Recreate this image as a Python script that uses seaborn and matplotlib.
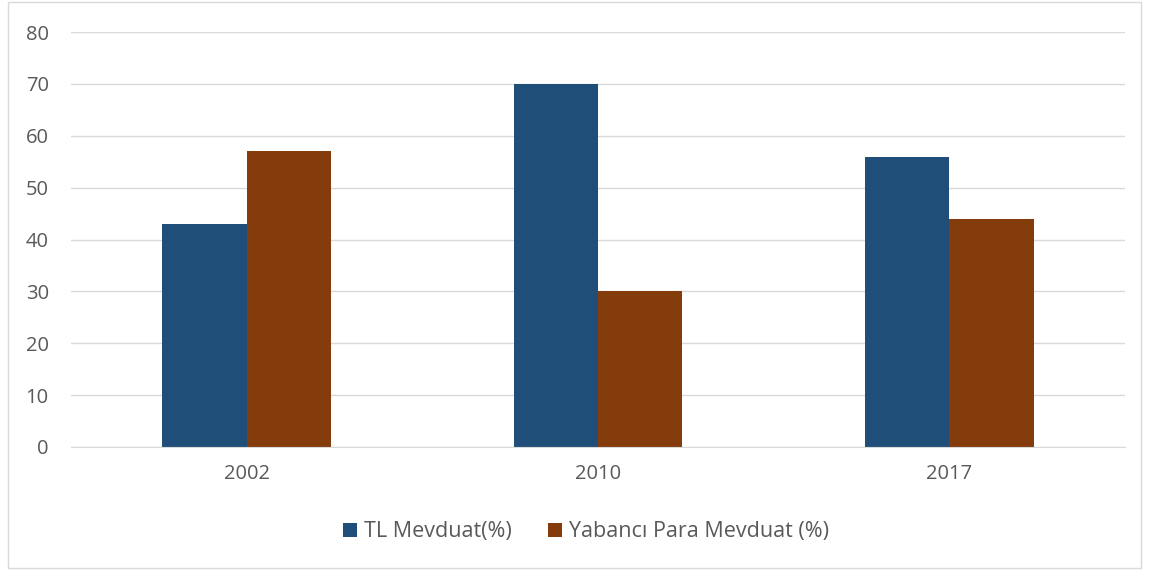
import pandas as pd
import matplotlib.pyplot as plt
import seaborn as sns
from matplotlib.patches import Rectangle

years = ["2002", "2010", "2017"]
tl_mevduat = [43, 70, 56]
yabanci_mevduat = [57, 30, 44]
series_names = ["TL Mevduat(%)", "Yabancı Para Mevduat (%)"]
colors = ["#1F4E79", "#843C0C"]

df = pd.DataFrame({
    "year": years * 2,
    "value": tl_mevduat + yabanci_mevduat,
    "series": [series_names[0]] * 3 + [series_names[1]] * 3,
})

sns.set_style("white")
plt.rcParams["font.family"] = ["Open Sans", "DejaVu Sans"]

fig = plt.figure(figsize=(11.5, 5.72), dpi=100)
ax = fig.add_axes([71 / 1150, 1 - 447 / 572, (1125 - 71) / 1150, (447 - 32) / 572])

sns.barplot(data=df, x="year", y="value", hue="series", palette=colors,
            width=0.48, gap=0, saturation=1, linewidth=0, ax=ax, legend=True)

ax.set_ylim(0, 80)
ax.set_xlim(-0.5, 2.5)
ax.set_yticks(range(0, 81, 10))
ax.yaxis.grid(True, color="#D9D9D9", linewidth=1)
ax.set_axisbelow(True)
for side in ["top", "right", "left"]:
    ax.spines[side].set_visible(False)
ax.spines["bottom"].set_color("#D9D9D9")
ax.tick_params(axis="both", length=0, labelsize=14.5, colors="#595959")
ax.tick_params(axis="y", pad=16)
ax.tick_params(axis="x", pad=12)
ax.set_xlabel("")
ax.set_ylabel("")

handles, labels = ax.get_legend_handles_labels()
ax.get_legend().remove()
fig.legend(handles, labels, loc="center", bbox_to_anchor=(586 / 1150, 1 - 532 / 572),
           ncol=2, frameon=False, fontsize=15.5, labelcolor="#595959",
           handlelength=0.65, handleheight=0.65, handletextpad=0.3, columnspacing=1.7)

fig.patches.append(Rectangle((8 / 1150, 4 / 572), 1133 / 1150, 566 / 572,
                             transform=fig.transFigure, fill=False,
                             edgecolor="#D9D9D9", linewidth=1))

fig.savefig("out.png", dpi=100)
